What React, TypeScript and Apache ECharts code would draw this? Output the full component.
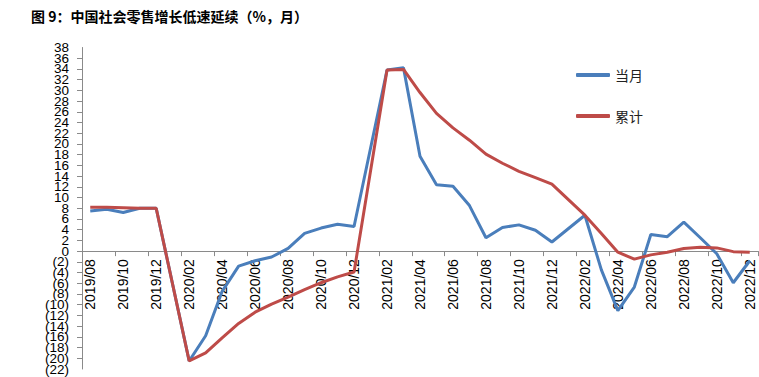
import React, { useEffect, useRef } from "react";
import * as echarts from "echarts";

const categories: string[] = [
  "2019/08", "2019/09", "2019/10", "2019/11", "2019/12",
  "2020/01", "2020/02", "2020/03", "2020/04", "2020/05", "2020/06", "2020/07", "2020/08", "2020/09", "2020/10", "2020/11", "2020/12",
  "2021/01", "2021/02", "2021/03", "2021/04", "2021/05", "2021/06", "2021/07", "2021/08", "2021/09", "2021/10", "2021/11", "2021/12",
  "2022/01", "2022/02", "2022/03", "2022/04", "2022/05", "2022/06", "2022/07", "2022/08", "2022/09", "2022/10", "2022/11", "2022/12",
];

const monthly: (number | null)[] = [
  7.5, 7.8, 7.2, 8.0, 8.0,
  null, -20.5, -15.8, -7.5, -2.8, -1.8, -1.1, 0.5, 3.3, 4.3, 5.0, 4.6,
  null, 33.8, 34.2, 17.7, 12.4, 12.1, 8.5, 2.5, 4.4, 4.9, 3.9, 1.7,
  null, 6.7, -3.5, -11.1, -6.7, 3.1, 2.7, 5.4, 2.5, -0.5, -5.9, -1.8,
];

const cumulative: (number | null)[] = [
  8.2, 8.2, 8.1, 8.0, 8.0,
  null, -20.5, -19.0, -16.2, -13.5, -11.4, -9.9, -8.6, -7.2, -5.9, -4.8, -3.9,
  null, 33.8, 33.9, 29.6, 25.7, 23.0, 20.7, 18.1, 16.4, 14.9, 13.7, 12.5,
  null, 6.7, 3.3, -0.2, -1.5, -0.7, -0.2, 0.5, 0.7, 0.6, -0.1, -0.2,
];

const seriesNames = ["当月", "累计"];
const titleText = "图 9：中国社会零售增长低速延续（%，月）";

const Y_MIN = -22;
const Y_MAX = 38;
const GRID_TOP = 47.5;
const GRID_BOTTOM = 8;
const CHART_H = 377;

const fmt = (v: number) => (v < 0 ? `(${Math.abs(v)})` : `${v}`);

export default function App() {
  const ref = useRef<HTMLDivElement>(null);
  useEffect(() => {
    if (!ref.current) return;
    const chart = echarts.init(ref.current, undefined, { renderer: "svg" });
    const plotH = CHART_H - GRID_TOP - GRID_BOTTOM;
    // move x axis (line, ticks, labels) up to the zero line
    const zeroOffset = -plotH * (0 - Y_MIN) / (Y_MAX - Y_MIN);
    const labelStyle = {
      margin: 13,
      fontSize: 13.5,
      color: "#000",
      fontFamily: "Liberation Sans",
      hideOverlap: false,
      formatter: fmt,
    };
    chart.setOption({
      animation: false,
      backgroundColor: "#ffffff",
      title: {
        text: titleText,
        left: 26,
        top: 4,
        textStyle: {
          fontSize: 14,
          fontWeight: "bold",
          color: "#000",
          fontFamily: "Noto Sans CJK SC",
        },
      },
      legend: {
        orient: "vertical",
        left: 571,
        top: 63,
        icon: "roundRect",
        itemWidth: 34,
        itemHeight: 4,
        itemGap: 27,
        textStyle: { fontSize: 14, color: "#222", fontFamily: "Noto Sans CJK SC" },
        data: seriesNames,
      },
      grid: { left: 82, right: 1, top: GRID_TOP, bottom: GRID_BOTTOM, outerBoundsMode: "none", containLabel: false },
      xAxis: {
        type: "category",
        data: categories,
        boundaryGap: true,
        offset: zeroOffset,
        axisLine: { onZero: false, lineStyle: { color: "#8a8a8a", width: 1 } },
        axisTick: { show: true, interval: 1, length: 5, lineStyle: { color: "#8a8a8a" } },
        axisLabel: {
          interval: 1,
          rotate: 90,
          margin: 8,
          fontSize: 14,
          color: "#000",
          fontFamily: "Liberation Sans",
          hideOverlap: false,
        },
      },
      yAxis: [
        {
          type: "value",
          position: "left",
          min: Y_MIN,
          max: Y_MAX,
          interval: 2,
          splitLine: { show: false },
          axisLine: { show: true, onZero: false, lineStyle: { color: "#8a8a8a", width: 1 } },
          axisTick: { show: true, length: 5, lineStyle: { color: "#8a8a8a" } },
          axisLabel: { ...labelStyle, showMinLabel: false, showMaxLabel: false },
        },
        {
          type: "value",
          position: "left",
          offset: 0,
          min: Y_MIN,
          max: Y_MAX,
          interval: Y_MAX - Y_MIN,
          splitLine: { show: false },
          axisLine: { show: false, onZero: false },
          axisTick: { show: false },
          axisLabel: { ...labelStyle, showMinLabel: true, showMaxLabel: true },
        },
      ],
      series: [
        {
          name: seriesNames[0],
          type: "line",
          yAxisIndex: 0,
          data: monthly,
          connectNulls: true,
          symbol: "none",
          lineStyle: { color: "#4a7ebb", width: 3 },
          itemStyle: { color: "#4a7ebb" },
        },
        {
          name: seriesNames[1],
          type: "line",
          yAxisIndex: 0,
          data: cumulative,
          connectNulls: true,
          symbol: "none",
          lineStyle: { color: "#be4b48", width: 3 },
          itemStyle: { color: "#be4b48" },
        },
      ],
    });
    return () => chart.dispose();
  }, []);
  return (
    <div
      ref={ref}
      style={{ position: "fixed", left: 0, top: 0, width: 759, height: 377 }}
    />
  );
}
